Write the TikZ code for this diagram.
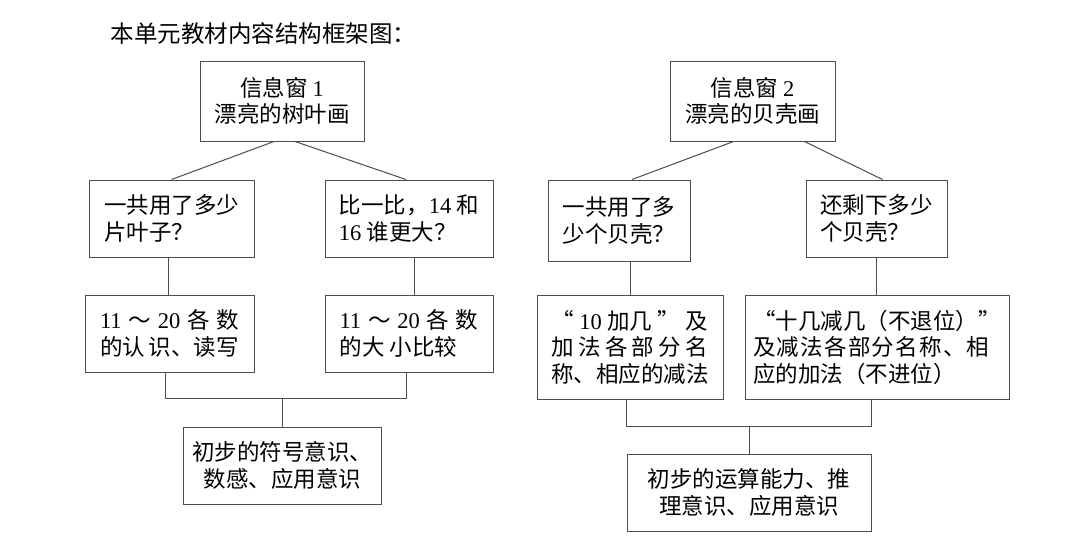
\documentclass[tikz,border=0pt]{standalone}
\usepackage{fontspec}
\setmainfont{Liberation Serif}
\newfontfamily\cjk{Noto Sans CJK SC}
\newcommand{\lat}[1]{{\rmfamily #1}}
\newcommand{\fillrow}[2]{\makebox[#1][s]{\spaceskip=0pt plus 1fil\xspaceskip=0pt plus 1fil\relax #2}}
\tikzset{
	blk/.style={draw=black!70, line width=1pt, inner sep=0pt, font=\cjk\fontsize{22.5}{26.5}\selectfont},
	link/.style={draw=black!70, line width=1pt},
}

\begin{document}
\begin{tikzpicture}[x=1pt,y=-1pt]
		\useasboundingbox (0,0) rectangle (1080,546);
		\node[anchor=west, font=\cjk\fontsize{23.5}{27}\selectfont] (title) at (107,34) {本单元教材内容结构框架图：};
		% left tree
		\node[blk, minimum width=164pt, minimum height=80pt, align=center] (win1) at (282,101) {信息窗 \lat{1}\\漂亮的树叶画};
		\node[blk, minimum width=165pt, minimum height=77pt, align=left] (q1) at (171.5,218.5) {一共用了多少\\片叶子？};
		\node[blk, minimum width=168pt, minimum height=77pt, align=left] (q2) at (409,218.5) {比一比，\lat{14} 和\\\lat{16} 谁更大？};
		\node[blk, minimum width=169pt, minimum height=77pt, align=left] (a1) at (169.5,333.5) {\fillrow{139pt}{\lat{11} ～ \lat{20} 各 数}\\\fillrow{139pt}{的认 识、读写}};
		\node[blk, minimum width=168pt, minimum height=77pt, align=left] (a2) at (409,333.5) {\fillrow{139pt}{\lat{11} ～ \lat{20} 各 数}\\的大 小比较};
		\node[blk, minimum width=198pt, minimum height=77pt, align=center] (b1) at (282.3,465.5) {初步的符号意识、\\数感、应用意识};
		% right tree
		\node[blk, minimum width=165pt, minimum height=80pt, align=center] (win2) at (752.5,101) {信息窗 \lat{2}\\漂亮的贝壳画};
		\node[blk, minimum width=142pt, minimum height=81pt, align=left] (q3) at (619,220.5) {一共用了多\\少个贝壳？};
		\node[blk, minimum width=141pt, minimum height=77pt, align=left] (q4) at (876.5,218.5) {还剩下多少\\个贝壳？};
		\node[blk, minimum width=186pt, minimum height=104pt, align=left] (a3) at (630,347) {\fillrow{157pt}{“ \lat{10} 加几 ” 及}\\\fillrow{157pt}{加 法 各 部 分 名}\\称、相应的减法};
		\node[blk, minimum width=264pt, minimum height=104pt, align=left] (a4) at (877,347) {“十几减几（不退位）”\\\fillrow{236pt}{及 减 法 各 部 分 名 称 、 相}\\应的加法（不进位）};
		\node[blk, minimum width=244pt, minimum height=77pt, align=center] (b2) at (749,492.5) {初步的运算能力、推\\理意识、应用意识};
		% connectors
		\draw [link] ([xshift=-8pt]win1.south) -- (q1.north);
		\draw [link] ([xshift=13pt]win1.south) -- ([xshift=-3pt]q2.north);
		\draw [link] ([xshift=-19pt]win2.south) -- ([xshift=13pt]q3.north);
		\draw [link] ([xshift=52pt]win2.south) -- ([xshift=6pt]q4.north);
		\draw [link] ([xshift=-3pt]q1.south) -- ([xshift=-3pt]q1.south |- a1.north);
		\draw [link] ([xshift=5pt]q2.south) -- ([xshift=5pt]q2.south |- a2.north);
		\draw [link] (a3.north |- q3.south) -- (a3.north);
		\draw [link] (q4.south) -- (q4.south |- a4.north);
		\coordinate (j1) at ([yshift=28pt]b1.north);
		\coordinate (j2) at ([yshift=27pt]b2.north);
		\draw [link] ([xshift=-4.5pt]a1.south) |- (j1) -| ([xshift=-3pt]a2.south);
		\draw [link] (j1) -- (b1.north);
		\draw [link] ([xshift=-4pt]a3.south) |- (j2) -| ([xshift=-6pt]a4.south);
		\draw [link] (j2) -- (b2.north);
	\end{tikzpicture}
\end{document}
